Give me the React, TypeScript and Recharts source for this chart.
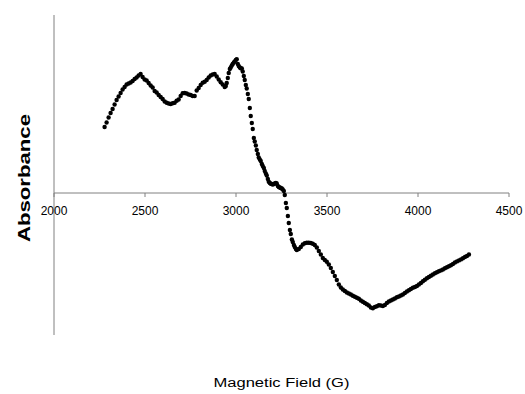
import React from 'react';
import { ScatterChart, Scatter, XAxis, YAxis, ReferenceLine } from 'recharts';

// Magnetic field (G) vs absorbance (arbitrary units)
const riseSegment: [number, number][] = [
  [2278, 0.66], [2289, 0.705], [2300, 0.755], [2311, 0.8], [2322, 0.84], [2333, 0.885],
  [2344, 0.93], [2355, 0.965], [2366, 1.0], [2377, 1.035], [2388, 1.06], [2399, 1.085],
  [2410, 1.095], [2421, 1.105], [2432, 1.12], [2443, 1.14], [2454, 1.155], [2465, 1.175],
  [2476, 1.19], [2487, 1.16], [2498, 1.135], [2509, 1.125], [2520, 1.1], [2531, 1.075],
  [2542, 1.055], [2553, 1.02], [2564, 1.005], [2575, 0.98], [2586, 0.96], [2597, 0.94],
  [2608, 0.915], [2619, 0.903], [2630, 0.895], [2641, 0.89], [2652, 0.897], [2663, 0.902],
  [2674, 0.922], [2685, 0.935], [2696, 0.97], [2707, 0.997], [2718, 1.0], [2729, 0.995],
  [2740, 0.985], [2751, 0.98], [2762, 0.97], [2773, 0.97], [2784, 1.025], [2795, 1.05],
  [2806, 1.08], [2817, 1.103], [2828, 1.112], [2839, 1.13], [2850, 1.155], [2861, 1.175],
  [2872, 1.185], [2883, 1.19], [2894, 1.165], [2905, 1.135], [2916, 1.107], [2927, 1.085],
  [2938, 1.06],
];

const dropSegment: [number, number][] = [
  [2944, 1.07], [2949, 1.1], [2955, 1.15], [2960, 1.2], [2966, 1.24], [2971, 1.255],
  [2977, 1.275], [2982, 1.29], [2988, 1.305], [2993, 1.315], [2999, 1.33], [3004, 1.337],
  [3010, 1.29], [3015, 1.27], [3021, 1.255], [3026, 1.247], [3032, 1.245], [3037, 1.215],
  [3043, 1.17], [3048, 1.13], [3054, 1.08], [3059, 1.045], [3065, 0.99], [3070, 0.94],
  [3076, 0.85], [3081, 0.77], [3087, 0.7], [3092, 0.64], [3098, 0.55], [3103, 0.515],
  [3109, 0.475], [3114, 0.43], [3120, 0.39], [3125, 0.355], [3131, 0.335], [3136, 0.32],
  [3142, 0.29], [3147, 0.27], [3153, 0.25], [3158, 0.22], [3164, 0.195], [3169, 0.175],
  [3175, 0.14], [3180, 0.113], [3186, 0.1], [3191, 0.092], [3197, 0.09], [3202, 0.085],
  [3208, 0.09], [3213, 0.095], [3219, 0.1], [3224, 0.095], [3230, 0.07], [3235, 0.06],
  [3241, 0.055], [3246, 0.05], [3252, 0.045], [3257, 0.035], [3263, 0.02], [3268, -0.02],
  [3274, -0.1], [3279, -0.15], [3285, -0.23], [3290, -0.3], [3296, -0.37], [3301, -0.41],
  [3307, -0.465], [3312, -0.49], [3318, -0.52], [3323, -0.54], [3329, -0.56], [3334, -0.57],
];

const tailSegment: [number, number][] = [
  [3345, -0.56], [3356, -0.54], [3367, -0.515], [3378, -0.503], [3389, -0.498], [3400, -0.497],
  [3411, -0.5], [3422, -0.508], [3433, -0.52], [3444, -0.545], [3455, -0.58], [3466, -0.615],
  [3477, -0.65], [3488, -0.67], [3499, -0.688], [3510, -0.715], [3521, -0.75], [3532, -0.79],
  [3543, -0.83], [3554, -0.87], [3565, -0.915], [3576, -0.945], [3587, -0.965], [3598, -0.98],
  [3609, -0.995], [3620, -1.005], [3631, -1.015], [3642, -1.028], [3653, -1.038], [3664, -1.048],
  [3675, -1.058], [3686, -1.075], [3697, -1.088], [3708, -1.1], [3719, -1.112], [3730, -1.125],
  [3741, -1.145], [3752, -1.153], [3763, -1.14], [3774, -1.133], [3785, -1.122], [3796, -1.125],
  [3807, -1.13], [3818, -1.12], [3829, -1.1], [3840, -1.085], [3851, -1.075], [3862, -1.065],
  [3873, -1.055], [3884, -1.043], [3895, -1.035], [3906, -1.025], [3917, -1.015], [3928, -1.0],
  [3939, -0.985], [3950, -0.973], [3961, -0.96], [3972, -0.948], [3983, -0.94], [3994, -0.93],
  [4005, -0.915], [4016, -0.9], [4027, -0.883], [4038, -0.868], [4049, -0.853], [4060, -0.84],
  [4071, -0.828], [4082, -0.815], [4093, -0.803], [4104, -0.793], [4115, -0.783], [4126, -0.774],
  [4137, -0.765], [4148, -0.753], [4159, -0.742], [4170, -0.732], [4181, -0.723], [4192, -0.71],
  [4203, -0.695], [4214, -0.684], [4225, -0.674], [4236, -0.664], [4247, -0.652], [4258, -0.64],
  [4269, -0.63], [4280, -0.615],
];

const xTicks = [2000, 2500, 3000, 3500, 4000, 4500];
const xDomain = [2000, 4500];
const yDomain = [-1.42, 1.78];
const tickLen = 0.04;
const xTitle = 'Magnetic Field (G)';
const yTitle = 'Absorbance';

const data = [...riseSegment, ...dropSegment, ...tailSegment].map(([field, absorbance]) => ({ field, absorbance }));

const FONT = '"Liberation Sans", Arial, sans-serif';
const AXIS_COLOR = '#808080';

const Dot = (props: any) => {
  const { cx, cy } = props;
  if (cx == null || cy == null) return null;
  return <circle cx={cx} cy={cy} r={2.2} fill="#000" />;
};

const YLabel = (props: any) => {
  const vb = props.viewBox || {};
  const cx = vb.x + vb.width / 2 - 3;
  const cy = vb.y + vb.height / 2 + 3;
  return (
    <text
      x={cx}
      y={cy}
      transform={`rotate(-90 ${cx} ${cy})`}
      textAnchor="middle"
      dominantBaseline="central"
      fontFamily={FONT}
      fontWeight="bold"
      fontSize={16}
      textLength={128}
      lengthAdjust="spacingAndGlyphs"
      fill="#000"
    >
      {yTitle}
    </text>
  );
};

const XLabel = (props: any) => {
  const vb = props.viewBox || {};
  const cx = vb.x + vb.width / 2;
  const cy = vb.y + vb.height - 11;
  return (
    <text
      x={cx}
      y={cy}
      textAnchor="middle"
      dominantBaseline="central"
      fontFamily={FONT}
      fontSize={12}
      textLength={136}
      lengthAdjust="spacingAndGlyphs"
      fill="#000"
    >
      {xTitle}
    </text>
  );
};

export default function App() {
  return (
    <div style={{ position: 'absolute', left: 0, top: 0, background: '#fff' }}>
      <ScatterChart width={525} height={394} margin={{ top: 15, right: 16, bottom: 0, left: 0 }}>
        <XAxis
          type="number"
          dataKey="field"
          domain={xDomain}
          ticks={xTicks}
          axisLine={false}
          tickLine={false}
          tick={false}
          height={59}
          label={<XLabel />}
        />
        <YAxis
          type="number"
          dataKey="absorbance"
          domain={yDomain}
          width={54}
          tick={false}
          tickLine={false}
          axisLine={{ stroke: AXIS_COLOR, strokeWidth: 1 }}
          label={<YLabel />}
        />
        <ReferenceLine y={0} stroke={AXIS_COLOR} strokeWidth={1} ifOverflow="visible" />
        {xTicks.map((t) => (
          <ReferenceLine
            key={t}
            segment={[{ x: t, y: 0 }, { x: t, y: -tickLen }]}
            stroke={AXIS_COLOR}
            strokeWidth={1}
            ifOverflow="visible"
            label={{ value: String(t), position: 'bottom', offset: 9, fontSize: 12, fill: '#000', fontFamily: FONT }}
          />
        ))}
        <Scatter data={data} fill="#000" shape={<Dot />} isAnimationActive={false} />
      </ScatterChart>
    </div>
  );
}
